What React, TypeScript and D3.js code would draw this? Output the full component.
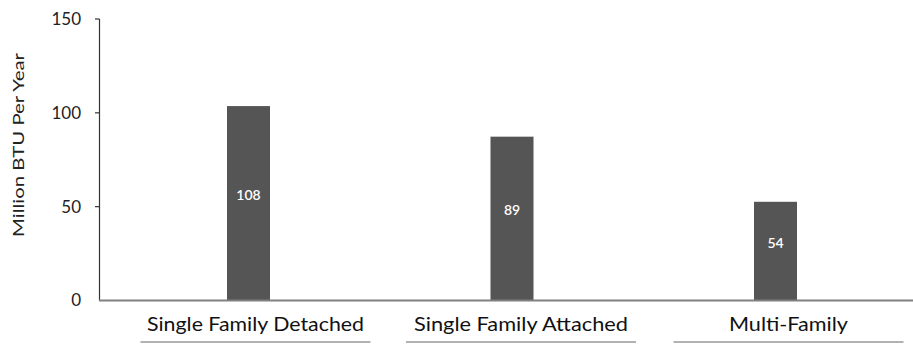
import React from "react";
import * as d3 from "d3";

const categories = ["Single Family Detached", "Single Family Attached", "Multi-Family"];
const barValues = [103.6, 87.3, 52.6];
const barLabels = ["108", "89", "54"];
const yTicks = [0, 50, 100, 150];
const yTitle = "Million BTU Per Year";

const W = 913;
const H = 345;

export default function App() {
  const y = d3.scaleLinear().domain([0, 150]).range([300.5, 19]);
  const x = d3.scaleBand<string>().domain(categories).range([116.75, 907.25]);
  const barW = 43;
  const font = "Lato, 'Open Sans', sans-serif";
  const labelOffset = [7, 9, 13];
  const labelLen = [217, 214, 119];

  return (
    <svg width={W} height={H} style={{ position: "absolute", left: 0, top: 0, background: "#fff" }}>
      {/* y axis */}
      <line x1={99.5} x2={99.5} y1={y(150)} y2={y(0)} stroke="#333" strokeWidth={1.2} />
      {yTicks.map((t) => (
        <g key={t}>
          {t !== 0 && <line x1={95} x2={99.5} y1={y(t)} y2={y(t)} stroke="#333" strokeWidth={1.2} />}
          <text x={81} y={y(t)} dy="0.35em" textAnchor="end" fontFamily={font} fontSize={17} fill="#222">
            {t}
          </text>
        </g>
      ))}
      <text
        transform={`translate(19,${145}) rotate(-90)`}
        textAnchor="middle"
        dy="0.35em"
        fontFamily={font}
        fontSize={15}
        fill="#222"
        textLength={184}
        lengthAdjust="spacingAndGlyphs"
      >
        {yTitle}
      </text>
      {/* bars */}
      {categories.map((c, i) => {
        const cx = (x(c) as number) + x.bandwidth() / 2;
        const top = y(barValues[i]);
        return (
          <g key={c}>
            <rect x={cx - barW / 2} y={top} width={barW} height={y(0) - top} fill="#555" />
            <text
              x={cx}
              y={(top + y(0)) / 2 - 8}
              dy="0.35em"
              textAnchor="middle"
              fontFamily={font}
              fontSize={14}
              fontWeight={600}
              fill="#fff"
            >
              {barLabels[i]}
            </text>
          </g>
        );
      })}
      {/* baseline */}
      <line x1={99} x2={W} y1={y(0)} y2={y(0)} stroke="#808080" strokeWidth={2} />
      {/* category labels */}
      {categories.map((c, i) => {
        const cx = (x(c) as number) + x.bandwidth() / 2 + labelOffset[i];
        return (
          <g key={c + "lbl"}>
            <text
              x={cx}
              y={331}
              textAnchor="middle"
              fontFamily={font}
              fontSize={19}
              fill="#111"
              textLength={labelLen[i]}
              lengthAdjust="spacingAndGlyphs"
            >
              {c}
            </text>
            <line x1={cx - 115} x2={cx + 115} y1={342} y2={342} stroke="#666" strokeWidth={1} />
          </g>
        );
      })}
    </svg>
  );
}
